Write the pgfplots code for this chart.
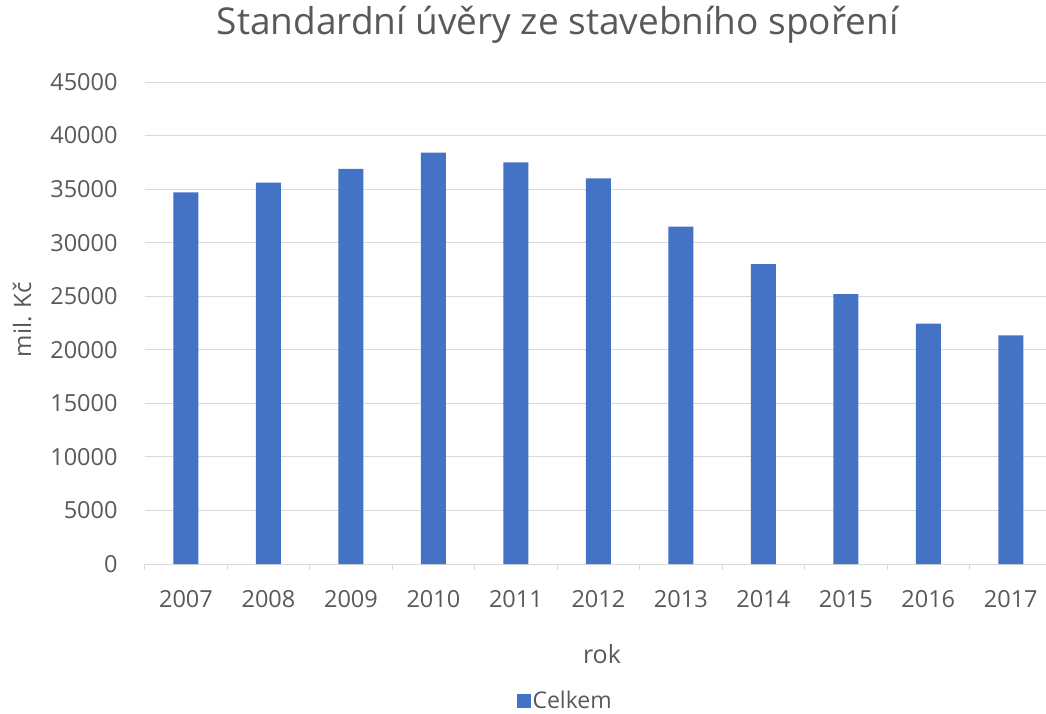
\documentclass[border=0pt]{standalone}
\usepackage{fontspec}
\setmainfont{Open Sans}
\usepackage{pgfplots}
\pgfplotsset{compat=1.18}

\definecolor{barblue}{HTML}{4472C4}
\definecolor{txtgray}{HTML}{595959}
\definecolor{gridgray}{HTML}{D9D9D9}

% Standard building-savings loans, total per year (mil. CZK)
\pgfplotstableread{
idx rok hodnota
0 2007 34700
1 2008 35600
2 2009 36900
3 2010 38400
4 2011 37500
5 2012 36000
6 2013 31500
7 2014 28000
8 2015 25200
9 2016 22450
10 2017 21350
}\uvery

\begin{document}
\begin{tikzpicture}[x=1pt,y=1pt]
\useasboundingbox (0,0) rectangle (1046,713);
\begin{axis}[
  at={(144.75pt,149pt)}, anchor=south west,
  scale only axis,
  width=907.25pt, height=482pt,
  ybar, bar width=25pt,
  xmin=-0.5, xmax=10.5,
  ymin=0, ymax=45000,
  ytick={0,5000,...,45000},
  xtick=data,
  xticklabels from table={\uvery}{rok},
  minor xtick={-0.5,0.5,...,10.5},
  major tick length=0pt,
  minor tick length=6pt,
  major x tick style={draw=none},
  minor x tick style={draw=gridgray, line width=0.8pt},
  xtick pos=bottom, tick align=outside,
  ytick style={draw=none},
  axis x line*=bottom,
  axis y line*=left,
  y axis line style={draw=none},
  x axis line style={draw=gridgray, line width=1pt, -},
  ymajorgrids, grid style={draw=gridgray, line width=1pt},
  /pgf/number format/assume math mode=true,
  /pgf/number format/1000 sep={},
  scaled y ticks=false,
  tick label style={font=\fontsize{23.5}{26}\selectfont, text=txtgray, inner sep=0pt},
  xticklabel style={anchor=north, yshift=-26pt},
  yticklabel style={anchor=east, xshift=-27pt},
  title={Standardní úvěry ze stavebního spoření},
  title style={font=\fontsize{37}{42}\selectfont, text=txtgray, inner sep=0pt,
    at={(axis description cs:0.455,1.087)}, anchor=base},
  xlabel={rok},
  xlabel style={font=\fontsize{25}{28}\selectfont, text=txtgray, inner sep=0pt,
    at={(axis description cs:0.504,-0.2054)}, anchor=base},
  ylabel={mil. Kč},
  ylabel style={font=\fontsize{24}{27}\selectfont, text=txtgray, inner sep=0pt,
    at={(axis description cs:-0.1353,0.507)}, anchor=center},
  legend style={at={(axis description cs:0.4633,-0.284)}, anchor=center,
    draw=none, fill=none, font=\fontsize{23}{26}\selectfont, text=txtgray,
    inner sep=0pt},
  legend image code/.code={\fill[barblue] (0pt,-7pt) rectangle (14pt,7pt);},
]
\addplot[fill=barblue, draw=none] table[x=idx, y=hodnota] {\uvery};
\addlegendentry{Celkem}
\end{axis}
\end{tikzpicture}
\end{document}
